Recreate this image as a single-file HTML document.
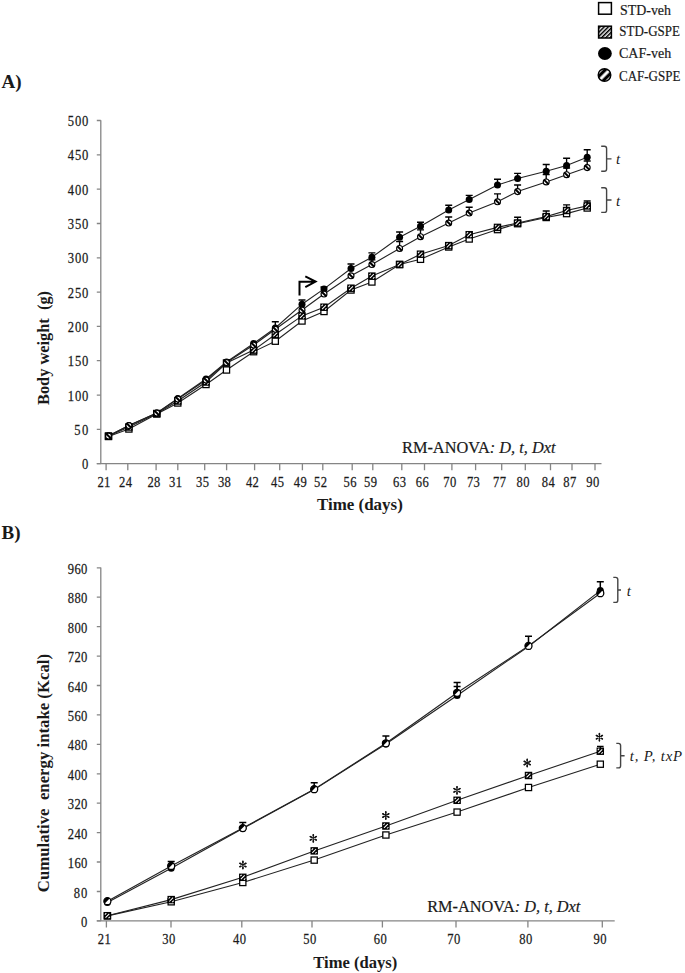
<!DOCTYPE html>
<html><head><meta charset="utf-8"><title>Figure</title>
<style>
html,body{margin:0;padding:0;background:#fff;}
body{width:685px;height:973px;overflow:hidden;}
svg{display:block;}
text{font-family:"Liberation Serif",serif;fill:#1a1a1a;}
.t{font-size:15px;stroke:#1a1a1a;stroke-width:0.25px;}
.b{font-weight:bold;}
.i{font-style:italic;}
</style></head><body>
<svg width="685" height="973" viewBox="0 0 685 973">
<defs>
<pattern id="hs" patternUnits="userSpaceOnUse" width="2.95" height="2.95" patternTransform="rotate(45)">
<rect width="2.95" height="2.95" fill="#fff"/><rect width="1.55" height="2.95" fill="#000"/>
</pattern>
<pattern id="hc" patternUnits="userSpaceOnUse" x="604.5" y="75" width="6.3" height="6.3" patternTransform="rotate(45 604.5 75)">
<rect width="6.3" height="6.3" fill="#000"/><rect x="-1.5" width="3.0" height="6.3" fill="#fff"/><rect x="4.8" width="3.0" height="6.3" fill="#fff"/>
</pattern>
<clipPath id="cc"><circle r="3.75"/></clipPath>
<clipPath id="cl"><circle cx="604.5" cy="75" r="6.6"/></clipPath>
<g id="sqo"><rect x="-3.1" y="-3.1" width="6.2" height="6.2" fill="#fff" stroke="#000" stroke-width="1.25"/></g>
<g id="sqh"><rect x="-3.1" y="-3.1" width="6.2" height="6.2" fill="#000" stroke="#000" stroke-width="1.25"/><path d="M-1.9 1.9L1.9 -1.9M-2.5 -1.1L-1.1 -2.5M1.1 2.5L2.5 1.1" stroke="#fff" stroke-width="1.05"/></g>
<g id="cf"><circle r="3.5" fill="#000"/></g>
<g id="ch"><circle r="2.95" fill="#fff" stroke="#000" stroke-width="1.15"/><path d="M-2.3 -2.3L2.3 2.3" stroke="#000" stroke-width="2.0"/></g>
<g id="ast"><path d="M0 -3.8V3.8M-3.1 -1.8L3.1 1.8M-3.1 1.8L3.1 -1.8" stroke="#111" stroke-width="1.05" stroke-linecap="round"/><path d="M0 -3.6V-2.5M0 3.6V2.5M-2.95 -1.7L-2.0 -1.15M2.95 1.7L2.0 1.15M-2.95 1.7L-2.0 1.15M2.95 -1.7L2.0 -1.15" stroke="#111" stroke-width="1.6" stroke-linecap="round"/></g>
<g id="cb"><circle r="3.5" fill="#fff" stroke="#000" stroke-width="1.3"/><path d="M-2.6 2.2A3.4 3.4 0 0 1 2.2 -2.6Z" fill="#000"/></g>
</defs>
<rect width="685" height="973" fill="#fff"/>

<g>
<rect x="598.6" y="2.6" width="12.8" height="11.6" fill="#fff" stroke="#000" stroke-width="1.5"/>
<rect x="598.6" y="26.2" width="12.8" height="11.8" fill="url(#hs)" stroke="#000" stroke-width="1.5"/>
<ellipse cx="604.9" cy="53.5" rx="6.9" ry="6.4" fill="#000"/>
<ellipse cx="604.5" cy="75" rx="6.3" ry="6.3" fill="url(#hc)" stroke="#000" stroke-width="1.4"/>
<text x="620" y="15.1" style="font-size:14px;stroke:#1a1a1a;stroke-width:0.2px" textLength="51" lengthAdjust="spacingAndGlyphs">STD-veh</text>
<text x="619.3" y="36" style="font-size:14px;stroke:#1a1a1a;stroke-width:0.2px" textLength="60.6" lengthAdjust="spacingAndGlyphs">STD-GSPE</text>
<text x="619" y="57.5" style="font-size:14px;stroke:#1a1a1a;stroke-width:0.2px" textLength="52.2" lengthAdjust="spacingAndGlyphs">CAF-veh</text>
<text x="619" y="80.9" style="font-size:14px;stroke:#1a1a1a;stroke-width:0.2px" textLength="61.4" lengthAdjust="spacingAndGlyphs">CAF-GSPE</text>
</g>
<text x="1.5" y="88.2" class="b" style="font-size:19px">A)</text>
<text x="1.5" y="539.4" class="b" style="font-size:19px">B)</text>
<path d="M100.8 120.2V463.7M96.8 463.7H601.5" fill="none" stroke="#858585" stroke-width="1.3"/>
<path d="M96.8 463.7H100.8M96.8 429.4H100.8M96.8 395.1H100.8M96.8 360.7H100.8M96.8 326.4H100.8M96.8 292.1H100.8M96.8 257.8H100.8M96.8 223.5H100.8M96.8 189.1H100.8M96.8 154.8H100.8M96.8 120.5H100.8M106.1 463.7v6.5M127.8 463.7v6.5M156.1 463.7v6.5M177.8 463.7v6.5M204.7 463.7v6.5M226.6 463.7v6.5M254.6 463.7v6.5M279.7 463.7v6.5M302.4 463.7v6.5M322.8 463.7v6.5M352.2 463.7v6.5M372.8 463.7v6.5M401.8 463.7v6.5M424.5 463.7v6.5M451.9 463.7v6.5M475.6 463.7v6.5M501.7 463.7v6.5M525.3 463.7v6.5M550.5 463.7v6.5M572.0 463.7v6.5M595.0 463.7v6.5" fill="none" stroke="#858585" stroke-width="1.3"/>
<text class="t" transform="translate(88.4 469.1) scale(0.84 1)" text-anchor="end" textLength="8.4" lengthAdjust="spacing">0</text>
<text class="t" transform="translate(88.4 434.8) scale(0.84 1)" text-anchor="end" textLength="16.9" lengthAdjust="spacing">50</text>
<text class="t" transform="translate(88.4 400.5) scale(0.84 1)" text-anchor="end" textLength="24.5" lengthAdjust="spacing">100</text>
<text class="t" transform="translate(88.4 366.1) scale(0.84 1)" text-anchor="end" textLength="24.5" lengthAdjust="spacing">150</text>
<text class="t" transform="translate(88.4 331.8) scale(0.84 1)" text-anchor="end" textLength="24.5" lengthAdjust="spacing">200</text>
<text class="t" transform="translate(88.4 297.5) scale(0.84 1)" text-anchor="end" textLength="24.5" lengthAdjust="spacing">250</text>
<text class="t" transform="translate(88.4 263.2) scale(0.84 1)" text-anchor="end" textLength="24.5" lengthAdjust="spacing">300</text>
<text class="t" transform="translate(88.4 228.9) scale(0.84 1)" text-anchor="end" textLength="24.5" lengthAdjust="spacing">350</text>
<text class="t" transform="translate(88.4 194.5) scale(0.84 1)" text-anchor="end" textLength="24.5" lengthAdjust="spacing">400</text>
<text class="t" transform="translate(88.4 160.2) scale(0.84 1)" text-anchor="end" textLength="24.5" lengthAdjust="spacing">450</text>
<text class="t" transform="translate(88.4 125.9) scale(0.84 1)" text-anchor="end" textLength="24.5" lengthAdjust="spacing">500</text>
<text class="t" transform="translate(103.9 487.4) scale(0.84 1)" text-anchor="middle" textLength="15.5" lengthAdjust="spacing">21</text>
<text class="t" transform="translate(125.6 487.4) scale(0.84 1)" text-anchor="middle" textLength="15.5" lengthAdjust="spacing">24</text>
<text class="t" transform="translate(153.9 487.4) scale(0.84 1)" text-anchor="middle" textLength="15.5" lengthAdjust="spacing">28</text>
<text class="t" transform="translate(175.6 487.4) scale(0.84 1)" text-anchor="middle" textLength="15.5" lengthAdjust="spacing">31</text>
<text class="t" transform="translate(202.5 487.4) scale(0.84 1)" text-anchor="middle" textLength="15.5" lengthAdjust="spacing">35</text>
<text class="t" transform="translate(224.4 487.4) scale(0.84 1)" text-anchor="middle" textLength="15.5" lengthAdjust="spacing">38</text>
<text class="t" transform="translate(252.4 487.4) scale(0.84 1)" text-anchor="middle" textLength="15.5" lengthAdjust="spacing">42</text>
<text class="t" transform="translate(277.5 487.4) scale(0.84 1)" text-anchor="middle" textLength="15.5" lengthAdjust="spacing">45</text>
<text class="t" transform="translate(300.2 487.4) scale(0.84 1)" text-anchor="middle" textLength="15.5" lengthAdjust="spacing">49</text>
<text class="t" transform="translate(320.6 487.4) scale(0.84 1)" text-anchor="middle" textLength="15.5" lengthAdjust="spacing">52</text>
<text class="t" transform="translate(350.0 487.4) scale(0.84 1)" text-anchor="middle" textLength="15.5" lengthAdjust="spacing">56</text>
<text class="t" transform="translate(370.6 487.4) scale(0.84 1)" text-anchor="middle" textLength="15.5" lengthAdjust="spacing">59</text>
<text class="t" transform="translate(399.6 487.4) scale(0.84 1)" text-anchor="middle" textLength="15.5" lengthAdjust="spacing">63</text>
<text class="t" transform="translate(422.3 487.4) scale(0.84 1)" text-anchor="middle" textLength="15.5" lengthAdjust="spacing">66</text>
<text class="t" transform="translate(449.7 487.4) scale(0.84 1)" text-anchor="middle" textLength="15.5" lengthAdjust="spacing">70</text>
<text class="t" transform="translate(473.4 487.4) scale(0.84 1)" text-anchor="middle" textLength="15.5" lengthAdjust="spacing">73</text>
<text class="t" transform="translate(499.5 487.4) scale(0.84 1)" text-anchor="middle" textLength="15.5" lengthAdjust="spacing">77</text>
<text class="t" transform="translate(523.1 487.4) scale(0.84 1)" text-anchor="middle" textLength="15.5" lengthAdjust="spacing">80</text>
<text class="t" transform="translate(548.3 487.4) scale(0.84 1)" text-anchor="middle" textLength="15.5" lengthAdjust="spacing">84</text>
<text class="t" transform="translate(569.8 487.4) scale(0.84 1)" text-anchor="middle" textLength="15.5" lengthAdjust="spacing">87</text>
<text class="t" transform="translate(592.8 487.4) scale(0.84 1)" text-anchor="middle" textLength="15.5" lengthAdjust="spacing">90</text>
<path d="M100.8 567.6V920.9M96.8 920.9H614.7" fill="none" stroke="#858585" stroke-width="1.3"/>
<path d="M96.8 920.9H100.8M96.8 891.5H100.8M96.8 862.0H100.8M96.8 832.6H100.8M96.8 803.2H100.8M96.8 773.8H100.8M96.8 744.3H100.8M96.8 714.9H100.8M96.8 685.5H100.8M96.8 656.1H100.8M96.8 626.6H100.8M96.8 597.2H100.8M96.8 567.8H100.8M106.4 920.9v6.5M171.0 920.9v6.5M241.8 920.9v6.5M312.0 920.9v6.5M382.4 920.9v6.5M456.0 920.9v6.5M527.9 920.9v6.5M602.3 920.9v6.5" fill="none" stroke="#858585" stroke-width="1.3"/>
<text class="t" transform="translate(87.4 927.0) scale(0.84 1)" text-anchor="end" textLength="8.0" lengthAdjust="spacing">0</text>
<text class="t" transform="translate(87.4 897.6) scale(0.84 1)" text-anchor="end" textLength="16.2" lengthAdjust="spacing">80</text>
<text class="t" transform="translate(87.4 868.1) scale(0.84 1)" text-anchor="end" textLength="23.3" lengthAdjust="spacing">160</text>
<text class="t" transform="translate(87.4 838.7) scale(0.84 1)" text-anchor="end" textLength="23.3" lengthAdjust="spacing">240</text>
<text class="t" transform="translate(87.4 809.3) scale(0.84 1)" text-anchor="end" textLength="23.3" lengthAdjust="spacing">320</text>
<text class="t" transform="translate(87.4 779.9) scale(0.84 1)" text-anchor="end" textLength="23.3" lengthAdjust="spacing">400</text>
<text class="t" transform="translate(87.4 750.4) scale(0.84 1)" text-anchor="end" textLength="23.3" lengthAdjust="spacing">480</text>
<text class="t" transform="translate(87.4 721.0) scale(0.84 1)" text-anchor="end" textLength="23.3" lengthAdjust="spacing">560</text>
<text class="t" transform="translate(87.4 691.6) scale(0.84 1)" text-anchor="end" textLength="23.3" lengthAdjust="spacing">640</text>
<text class="t" transform="translate(87.4 662.2) scale(0.84 1)" text-anchor="end" textLength="23.3" lengthAdjust="spacing">720</text>
<text class="t" transform="translate(87.4 632.7) scale(0.84 1)" text-anchor="end" textLength="23.3" lengthAdjust="spacing">800</text>
<text class="t" transform="translate(87.4 603.3) scale(0.84 1)" text-anchor="end" textLength="23.3" lengthAdjust="spacing">880</text>
<text class="t" transform="translate(87.4 573.9) scale(0.84 1)" text-anchor="end" textLength="23.3" lengthAdjust="spacing">960</text>
<text class="t" transform="translate(104.2 944.3) scale(0.84 1)" text-anchor="middle" textLength="15.5" lengthAdjust="spacing">21</text>
<text class="t" transform="translate(168.8 944.3) scale(0.84 1)" text-anchor="middle" textLength="15.5" lengthAdjust="spacing">30</text>
<text class="t" transform="translate(239.6 944.3) scale(0.84 1)" text-anchor="middle" textLength="15.5" lengthAdjust="spacing">40</text>
<text class="t" transform="translate(309.8 944.3) scale(0.84 1)" text-anchor="middle" textLength="15.5" lengthAdjust="spacing">50</text>
<text class="t" transform="translate(380.2 944.3) scale(0.84 1)" text-anchor="middle" textLength="15.5" lengthAdjust="spacing">60</text>
<text class="t" transform="translate(453.8 944.3) scale(0.84 1)" text-anchor="middle" textLength="15.5" lengthAdjust="spacing">70</text>
<text class="t" transform="translate(525.7 944.3) scale(0.84 1)" text-anchor="middle" textLength="15.5" lengthAdjust="spacing">80</text>
<text class="t" transform="translate(600.1 944.3) scale(0.84 1)" text-anchor="middle" textLength="15.5" lengthAdjust="spacing">90</text>
<text x="317" y="509.5" class="b" style="font-size:17px" textLength="85.8" lengthAdjust="spacingAndGlyphs">Time (days)</text>
<text x="313.3" y="967.8" class="b" style="font-size:17px" textLength="84" lengthAdjust="spacingAndGlyphs">Time (days)</text>
<text transform="translate(49.3 405) rotate(-90)" class="b" style="font-size:17px" textLength="114" lengthAdjust="spacingAndGlyphs" xml:space="preserve">Body weight  (g)</text>
<text transform="translate(48.6 892.2) rotate(-90)" class="b" style="font-size:17px" textLength="238.2" lengthAdjust="spacingAndGlyphs" xml:space="preserve">Cumulative  energy intake (Kcal)</text>
<text x="402" y="452.6" style="font-size:16.4px;stroke:#1a1a1a;stroke-width:0.2px" textLength="153.5" lengthAdjust="spacingAndGlyphs">RM-ANOVA<tspan class="i">: D, t, Dxt</tspan></text>
<text x="427.2" y="911.6" style="font-size:16.4px;stroke:#1a1a1a;stroke-width:0.2px" textLength="153.2" lengthAdjust="spacingAndGlyphs">RM-ANOVA<tspan class="i">: D, t, Dxt</tspan></text>
<path d="M517.6 223.0V217.2M514.1 217.2h7" fill="none" stroke="#000" stroke-width="1.35"/>
<path d="M546.2 216.6V211.0M542.7 211.0h7" fill="none" stroke="#000" stroke-width="1.35"/>
<path d="M566.6 210.5V204.9M563.1 204.9h7" fill="none" stroke="#000" stroke-width="1.35"/>
<path d="M587.2 205.9V201.0M583.7 201.0h7" fill="none" stroke="#000" stroke-width="1.35"/>
<path d="M371.9 264.5V259.8M368.4 259.8h7" fill="none" stroke="#000" stroke-width="1.35"/>
<path d="M399.6 248.4V241.5M396.1 241.5h7" fill="none" stroke="#000" stroke-width="1.35"/>
<path d="M420.5 236.7V229.8M417.0 229.8h7" fill="none" stroke="#000" stroke-width="1.35"/>
<path d="M448.7 223.0V217.0M445.2 217.0h7" fill="none" stroke="#000" stroke-width="1.35"/>
<path d="M469.2 213.0V207.2M465.7 207.2h7" fill="none" stroke="#000" stroke-width="1.35"/>
<path d="M497.5 201.8V193.8M494.0 193.8h7" fill="none" stroke="#000" stroke-width="1.35"/>
<path d="M517.6 191.6V185.0M514.1 185.0h7" fill="none" stroke="#000" stroke-width="1.35"/>
<path d="M546.2 181.9V174.5M542.7 174.5h7" fill="none" stroke="#000" stroke-width="1.35"/>
<path d="M566.6 174.7V168.0M563.1 168.0h7" fill="none" stroke="#000" stroke-width="1.35"/>
<path d="M587.2 167.6V161.0M583.7 161.0h7" fill="none" stroke="#000" stroke-width="1.35"/>
<path d="M275.3 328.0V321.7M271.8 321.7h7" fill="none" stroke="#000" stroke-width="1.35"/>
<path d="M302.0 304.2V300.0M298.5 300.0h7" fill="none" stroke="#000" stroke-width="1.35"/>
<path d="M324.0 288.9V287.0M320.5 287.0h7" fill="none" stroke="#000" stroke-width="1.35"/>
<path d="M351.0 268.5V264.0M347.5 264.0h7" fill="none" stroke="#000" stroke-width="1.35"/>
<path d="M371.9 257.2V252.8M368.4 252.8h7" fill="none" stroke="#000" stroke-width="1.35"/>
<path d="M399.6 237.3V232.0M396.1 232.0h7" fill="none" stroke="#000" stroke-width="1.35"/>
<path d="M420.5 226.2V222.2M417.0 222.2h7" fill="none" stroke="#000" stroke-width="1.35"/>
<path d="M448.7 209.9V205.2M445.2 205.2h7" fill="none" stroke="#000" stroke-width="1.35"/>
<path d="M469.2 199.6V195.3M465.7 195.3h7" fill="none" stroke="#000" stroke-width="1.35"/>
<path d="M497.5 185.0V179.2M494.0 179.2h7" fill="none" stroke="#000" stroke-width="1.35"/>
<path d="M517.6 178.5V173.4M514.1 173.4h7" fill="none" stroke="#000" stroke-width="1.35"/>
<path d="M546.2 171.2V164.5M542.7 164.5h7" fill="none" stroke="#000" stroke-width="1.35"/>
<path d="M566.6 165.5V158.2M563.1 158.2h7" fill="none" stroke="#000" stroke-width="1.35"/>
<path d="M587.2 157.2V149.7M583.7 149.7h7" fill="none" stroke="#000" stroke-width="1.35"/>
<polyline points="108.5,436.5 128.9,429.0 156.8,414.0 177.8,403.0 206.0,384.5 226.5,370.0 253.6,351.7 275.3,341.2 302.0,321.0 324.0,311.5 351.0,290.0 371.9,282.0 399.6,264.5 420.5,259.3 448.7,247.0 469.2,239.0 497.5,229.6 517.6,223.7 546.2,217.5 566.6,213.6 587.2,208.0" fill="none" stroke="#222" stroke-width="1.1"/>
<polyline points="108.5,436.0 128.9,427.0 156.8,413.5 177.8,401.0 206.0,382.0 226.5,363.0 253.6,350.1 275.3,334.5 302.0,315.9 324.0,307.2 351.0,288.2 371.9,276.1 399.6,264.5 420.5,254.2 448.7,245.6 469.2,234.7 497.5,227.4 517.6,223.0 546.2,216.6 566.6,210.5 587.2,205.9" fill="none" stroke="#222" stroke-width="1.1"/>
<polyline points="108.5,436.0 128.9,425.5 156.8,413.0 177.8,399.0 206.0,380.0 226.5,362.5 253.6,345.0 275.3,329.3 302.0,310.0 324.0,294.0 351.0,275.8 371.9,264.5 399.6,248.4 420.5,236.7 448.7,223.0 469.2,213.0 497.5,201.8 517.6,191.6 546.2,181.9 566.6,174.7 587.2,167.6" fill="none" stroke="#222" stroke-width="1.1"/>
<polyline points="108.5,435.8 128.9,425.5 156.8,413.0 177.8,398.5 206.0,379.0 226.5,362.0 253.6,343.5 275.3,328.0 302.0,304.2 324.0,288.9 351.0,268.5 371.9,257.2 399.6,237.3 420.5,226.2 448.7,209.9 469.2,199.6 497.5,185.0 517.6,178.5 546.2,171.2 566.6,165.5 587.2,157.2" fill="none" stroke="#222" stroke-width="1.1"/>
<use href="#sqo" x="108.5" y="436.5"/>
<use href="#sqo" x="128.9" y="429.0"/>
<use href="#sqo" x="156.8" y="414.0"/>
<use href="#sqo" x="177.8" y="403.0"/>
<use href="#sqo" x="206.0" y="384.5"/>
<use href="#sqo" x="226.5" y="370.0"/>
<use href="#sqo" x="253.6" y="351.7"/>
<use href="#sqo" x="275.3" y="341.2"/>
<use href="#sqo" x="302.0" y="321.0"/>
<use href="#sqo" x="324.0" y="311.5"/>
<use href="#sqo" x="351.0" y="290.0"/>
<use href="#sqo" x="371.9" y="282.0"/>
<use href="#sqo" x="399.6" y="264.5"/>
<use href="#sqo" x="420.5" y="259.3"/>
<use href="#sqo" x="448.7" y="247.0"/>
<use href="#sqo" x="469.2" y="239.0"/>
<use href="#sqo" x="497.5" y="229.6"/>
<use href="#sqo" x="517.6" y="223.7"/>
<use href="#sqo" x="546.2" y="217.5"/>
<use href="#sqo" x="566.6" y="213.6"/>
<use href="#sqo" x="587.2" y="208.0"/>
<use href="#sqh" x="108.5" y="436.0"/>
<use href="#sqh" x="128.9" y="427.0"/>
<use href="#sqh" x="156.8" y="413.5"/>
<use href="#sqh" x="177.8" y="401.0"/>
<use href="#sqh" x="206.0" y="382.0"/>
<use href="#sqh" x="226.5" y="363.0"/>
<use href="#sqh" x="253.6" y="350.1"/>
<use href="#sqh" x="275.3" y="334.5"/>
<use href="#sqh" x="302.0" y="315.9"/>
<use href="#sqh" x="324.0" y="307.2"/>
<use href="#sqh" x="351.0" y="288.2"/>
<use href="#sqh" x="371.9" y="276.1"/>
<use href="#sqh" x="399.6" y="264.5"/>
<use href="#sqh" x="420.5" y="254.2"/>
<use href="#sqh" x="448.7" y="245.6"/>
<use href="#sqh" x="469.2" y="234.7"/>
<use href="#sqh" x="497.5" y="227.4"/>
<use href="#sqh" x="517.6" y="223.0"/>
<use href="#sqh" x="546.2" y="216.6"/>
<use href="#sqh" x="566.6" y="210.5"/>
<use href="#sqh" x="587.2" y="205.9"/>
<use href="#cf" x="108.5" y="435.8"/>
<use href="#cf" x="128.9" y="425.5"/>
<use href="#cf" x="156.8" y="413.0"/>
<use href="#cf" x="177.8" y="398.5"/>
<use href="#cf" x="206.0" y="379.0"/>
<use href="#cf" x="226.5" y="362.0"/>
<use href="#cf" x="253.6" y="343.5"/>
<use href="#cf" x="275.3" y="328.0"/>
<use href="#cf" x="302.0" y="304.2"/>
<use href="#cf" x="324.0" y="288.9"/>
<use href="#cf" x="351.0" y="268.5"/>
<use href="#cf" x="371.9" y="257.2"/>
<use href="#cf" x="399.6" y="237.3"/>
<use href="#cf" x="420.5" y="226.2"/>
<use href="#cf" x="448.7" y="209.9"/>
<use href="#cf" x="469.2" y="199.6"/>
<use href="#cf" x="497.5" y="185.0"/>
<use href="#cf" x="517.6" y="178.5"/>
<use href="#cf" x="546.2" y="171.2"/>
<use href="#cf" x="566.6" y="165.5"/>
<use href="#cf" x="587.2" y="157.2"/>
<use href="#ch" x="108.5" y="436.0"/>
<use href="#ch" x="128.9" y="425.5"/>
<use href="#ch" x="156.8" y="413.0"/>
<use href="#ch" x="177.8" y="399.0"/>
<use href="#ch" x="206.0" y="380.0"/>
<use href="#ch" x="226.5" y="362.5"/>
<use href="#ch" x="253.6" y="345.0"/>
<use href="#ch" x="275.3" y="329.3"/>
<use href="#ch" x="302.0" y="310.0"/>
<use href="#ch" x="324.0" y="294.0"/>
<use href="#ch" x="351.0" y="275.8"/>
<use href="#ch" x="371.9" y="264.5"/>
<use href="#ch" x="399.6" y="248.4"/>
<use href="#ch" x="420.5" y="236.7"/>
<use href="#ch" x="448.7" y="223.0"/>
<use href="#ch" x="469.2" y="213.0"/>
<use href="#ch" x="497.5" y="201.8"/>
<use href="#ch" x="517.6" y="191.6"/>
<use href="#ch" x="546.2" y="181.9"/>
<use href="#ch" x="566.6" y="174.7"/>
<use href="#ch" x="587.2" y="167.6"/>
<path d="M299.5 295.6V281.7H315M305.3 276.4L315.6 281.6L305.3 287.2" fill="none" stroke="#000" stroke-width="2" stroke-linejoin="miter"/>
<path d="M601.2 146.3H604.4Q606.6 146.3 606.6 148.5V169.10000000000002Q606.6 171.3 604.4 171.3H601.2M606.6 158.9H611.5" fill="none" stroke="#444" stroke-width="1.4"/>
<path d="M601.2 187.7H604.4Q606.6 187.7 606.6 189.89999999999998V210.20000000000002Q606.6 212.4 604.4 212.4H601.2M606.6 200.0H611.5" fill="none" stroke="#444" stroke-width="1.4"/>
<text x="616" y="163.9" class="i" style="font-size:15px">t</text>
<text x="616" y="205.8" class="i" style="font-size:15px">t</text>
<path d="M171.2 868.3V861.6M167.7 861.6h7" fill="none" stroke="#000" stroke-width="1.5"/>
<path d="M242.8 828.6V822.5M239.3 822.5h7" fill="none" stroke="#000" stroke-width="1.5"/>
<path d="M314.2 789.6V782.7M310.7 782.7h7" fill="none" stroke="#000" stroke-width="1.5"/>
<path d="M385.9 744.0V735.9M382.4 735.9h7" fill="none" stroke="#000" stroke-width="1.5"/>
<path d="M457.1 695.5V682.5M453.6 682.5h7" fill="none" stroke="#000" stroke-width="1.5"/>
<path d="M528.5 646.5V636.3M525.0 636.3h7" fill="none" stroke="#000" stroke-width="1.5"/>
<path d="M600.3 590.6V581.8M596.8 581.8h7" fill="none" stroke="#000" stroke-width="1.5"/>
<path d="M457.1 692.8V686.6M453.6 686.6h7" fill="none" stroke="#000" stroke-width="1.5"/>
<path d="M600.3 751.2V746.4M597.0 746.4h6.6" fill="none" stroke="#000" stroke-width="1.3"/>
<polyline points="107.4,915.9 171.2,901.8 242.8,882.5 314.2,860.1 385.9,835.0 457.1,812.1 528.5,787.5 600.3,764.2" fill="none" stroke="#222" stroke-width="1.1"/>
<polyline points="107.4,915.7 171.2,899.6 242.8,877.3 314.2,850.9 385.9,826.0 457.1,800.3 528.5,775.5 600.3,751.2" fill="none" stroke="#222" stroke-width="1.1"/>
<polyline points="107.4,901.2 171.2,866.0 242.8,828.1 314.2,789.2 385.9,743.3 457.1,692.8 528.5,645.9 600.3,593.2" fill="none" stroke="#222" stroke-width="1.1"/>
<polyline points="107.4,902.5 171.2,868.3 242.8,828.6 314.2,789.6 385.9,744.0 457.1,695.5 528.5,646.5 600.3,590.6" fill="none" stroke="#222" stroke-width="1.1"/>
<use href="#sqo" x="107.4" y="915.9"/>
<use href="#sqo" x="171.2" y="901.8"/>
<use href="#sqo" x="242.8" y="882.5"/>
<use href="#sqo" x="314.2" y="860.1"/>
<use href="#sqo" x="385.9" y="835.0"/>
<use href="#sqo" x="457.1" y="812.1"/>
<use href="#sqo" x="528.5" y="787.5"/>
<use href="#sqo" x="600.3" y="764.2"/>
<use href="#sqh" x="107.4" y="915.7"/>
<use href="#sqh" x="171.2" y="899.6"/>
<use href="#sqh" x="242.8" y="877.3"/>
<use href="#sqh" x="314.2" y="850.9"/>
<use href="#sqh" x="385.9" y="826.0"/>
<use href="#sqh" x="457.1" y="800.3"/>
<use href="#sqh" x="528.5" y="775.5"/>
<use href="#sqh" x="600.3" y="751.2"/>
<use href="#cf" x="107.4" y="902.5"/>
<use href="#cf" x="171.2" y="868.3"/>
<use href="#cf" x="242.8" y="828.6"/>
<use href="#cf" x="314.2" y="789.6"/>
<use href="#cf" x="385.9" y="744.0"/>
<use href="#cf" x="457.1" y="695.5"/>
<use href="#cf" x="528.5" y="646.5"/>
<use href="#cf" x="600.3" y="590.6"/>
<use href="#cb" x="107.4" y="901.2"/>
<use href="#cb" x="171.2" y="866.0"/>
<use href="#cb" x="242.8" y="828.1"/>
<use href="#cb" x="314.2" y="789.2"/>
<use href="#cb" x="385.9" y="743.3"/>
<use href="#cb" x="457.1" y="692.8"/>
<use href="#cb" x="528.5" y="645.9"/>
<use href="#cb" x="600.3" y="593.2"/>
<use href="#ast" x="242.9" y="865.0"/>
<use href="#ast" x="313.3" y="838.3"/>
<use href="#ast" x="385.8" y="815.5"/>
<use href="#ast" x="457.0" y="790.3"/>
<use href="#ast" x="527.2" y="763.0"/>
<use href="#ast" x="599.4" y="737.2"/>
<path d="M613.3 577.4H615.5999999999999Q617.8 577.4 617.8 579.6V600.1999999999999Q617.8 602.4 615.5999999999999 602.4H613.3M617.8 590.0H621.0" fill="none" stroke="#444" stroke-width="1.4"/>
<path d="M616.3 743.4H618.4Q620.6 743.4 620.6 745.6V765.6999999999999Q620.6 767.9 618.4 767.9H616.3M620.6 755.7H624.6" fill="none" stroke="#444" stroke-width="1.4"/>
<text x="626.8" y="596.4" class="i" style="font-size:15px">t</text>
<text x="629.8" y="761.2" class="i" style="font-size:14.8px" textLength="52.3" lengthAdjust="spacing">t, P, txP</text>
</svg></body></html>
